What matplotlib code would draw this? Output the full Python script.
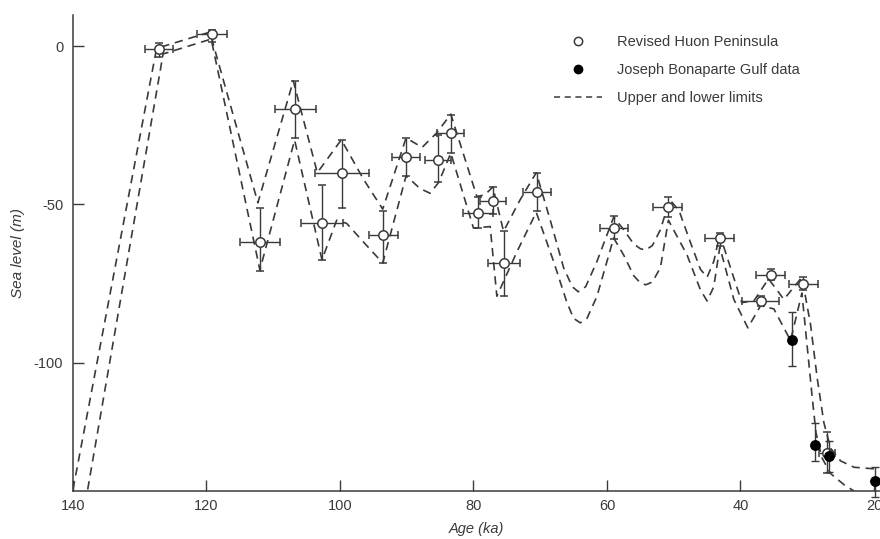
import numpy as np
import matplotlib.pyplot as plt
from matplotlib.lines import Line2D

plt.rcParams['font.family'] = ['Liberation Sans', 'DejaVu Sans']
plt.rcParams['axes.unicode_minus'] = False

# Revised Huon Peninsula (open circles)
huon_age = [127.1, 119.2, 112.0, 106.7, 102.7, 99.7, 93.5, 90.1, 85.3, 83.4, 79.3,
            77.1, 75.4, 70.5, 59.0, 50.9, 43.1, 37.0, 35.5, 30.6, 27.0]
huon_sl = [-1.0, 3.8, -62.0, -20.0, -56.0, -40.0, -59.6, -35.0, -36.0, -27.4, -52.7,
           -49.0, -68.5, -46.0, -57.4, -50.8, -60.6, -80.5, -72.2, -75.0, -128.5]
huon_xerr = [2.1, 2.2, 3.0, 3.1, 3.1, 4.0, 2.2, 2.1, 2.0, 2.0, 2.2,
             2.0, 2.4, 2.1, 2.1, 2.2, 2.2, 2.7, 2.2, 2.2, 1.2]
huon_ylo = [2.5, 2.5, 9.0, 9.0, 11.5, 11.0, 9.0, 6.0, 7.0, 6.4, 4.8,
            4.0, 10.5, 6.0, 3.6, 3.2, 2.4, 1.5, 1.8, 2.0, 6.2]
huon_yhi = [2.0, 1.2, 11.0, 9.0, 12.0, 10.4, 7.6, 6.0, 8.0, 5.6, 5.1,
            4.5, 10.0, 6.0, 3.8, 3.2, 1.6, 1.5, 1.7, 2.0, 6.5]

# Joseph Bonaparte Gulf (filled circles)
jbg_age = [32.3, 28.8, 26.7, 19.8]
jbg_sl = [-92.7, -125.9, -129.6, -137.5]
jbg_ylo = [8.3, 5.1, 5.0, 5.0]
jbg_yhi = [8.7, 6.9, 5.0, 4.5]

# upper and lower limit curves
upper_age = [140.0, 127.5, 126.8, 119.5, 112.3, 107.0, 103.4, 99.8, 96.5, 93.6,
             90.1, 87.7, 85.5, 83.4, 79.5, 78.3, 77.1, 75.5, 73.0, 70.6,
             68.5, 66.5, 65.2, 64.3, 63.2, 61.5, 59.0, 57.5, 56.0, 55.0,
             54.2, 53.2, 52.0, 50.6, 49.2, 47.5, 46.0, 45.0, 44.0, 43.1,
             41.5, 39.8, 38.0, 35.8, 33.5, 30.8, 29.5, 28.5, 27.5, 26.5,
             25.0, 23.0, 20.0]
upper_sl = [-140.0, -1.0, -0.3, 4.4, -49.5, -11.0, -40.0, -29.6, -42.0, -51.5,
            -29.0, -32.0, -27.4, -21.5, -47.5, -47.0, -44.5, -58.5, -48.5, -40.0,
            -55.0, -70.0, -76.0, -77.6, -76.0, -68.0, -54.0, -58.0, -62.5, -64.0,
            -64.4, -63.0, -58.0, -48.5, -52.0, -62.0, -70.5, -73.0, -68.0, -59.5,
            -70.0, -81.0, -80.5, -73.5, -80.0, -73.0, -88.0, -105.0, -119.0, -127.0,
            -131.0, -133.0, -133.5]

lower_age = [137.8, 126.5, 119.3, 112.0, 106.8, 102.7, 100.5, 99.0, 96.0, 93.6,
             90.1, 88.0, 86.5, 85.2, 83.4, 80.0, 77.5, 76.5, 73.5, 70.6,
             68.0, 66.0, 65.0, 64.0, 63.0, 61.5, 59.0, 57.5, 56.0, 55.0,
             54.2, 53.2, 52.0, 50.8, 48.0, 46.0, 45.0, 44.0, 43.1, 41.0,
             38.9, 37.0, 35.0, 32.5, 30.8, 30.0, 29.3, 28.7, 27.8, 26.5,
             24.5, 23.0]
lower_sl = [-140.0, -2.5, 2.2, -70.7, -29.7, -67.5, -55.0, -56.0, -63.0, -68.5,
            -41.0, -45.0, -46.5, -43.0, -33.8, -57.5, -57.0, -79.0, -65.0, -52.5,
            -68.0, -81.0, -86.0, -87.4, -86.0, -79.0, -60.6, -66.0, -72.5, -74.8,
            -75.4, -74.5, -70.0, -55.0, -66.0, -77.0, -80.5, -76.0, -63.5, -80.0,
            -89.0, -82.0, -83.0, -93.0, -78.0, -95.0, -110.0, -122.0, -130.0, -135.0,
            -138.5, -140.5]

ink = '#3a3a3a'

fig = plt.figure(figsize=(8.8, 5.39), dpi=100)
ax = fig.add_axes([73 / 880, 48 / 539, 807 / 880, 476 / 539])

ax.plot(upper_age, upper_sl, ls=(0, (5, 3.5)), color=ink, lw=1.2)
ax.plot(lower_age, lower_sl, ls=(0, (5, 3.5)), color=ink, lw=1.2)

ax.errorbar(huon_age, huon_sl, xerr=huon_xerr, yerr=[huon_ylo, huon_yhi],
            fmt='o', mfc='white', mec=ink, mew=1.1, ms=6.8, ecolor=ink,
            elinewidth=1.0, capsize=3, capthick=1.0, zorder=3)
ax.errorbar(jbg_age, jbg_sl, yerr=[jbg_ylo, jbg_yhi],
            fmt='o', mfc='black', mec='black', ms=6.8, ecolor=ink,
            elinewidth=1.0, capsize=3, capthick=1.0, zorder=4, clip_on=False)

ax.set_xlim(140, 19.1)
ax.set_ylim(-140.5, 9.8)
ax.set_xticks([140, 120, 100, 80, 60, 40, 20])
ax.set_yticks([0, -50, -100])
ax.tick_params(direction='in', length=8, width=1, colors=ink, labelsize=10.5)
ax.tick_params(axis='x', pad=6)
ax.tick_params(axis='y', pad=7)
for s in ['top', 'right']:
    ax.spines[s].set_visible(False)
for s in ['left', 'bottom']:
    ax.spines[s].set_color(ink)
    ax.spines[s].set_linewidth(1.1)

ax.set_xlabel('Age (ka)', style='italic', fontsize=10.5, color=ink, labelpad=6)
ax.set_ylabel('Sea level (m)', style='italic', fontsize=11, color=ink, labelpad=6)

handles = [
    Line2D([], [], ls='none', marker='o', mfc='white', mec=ink, mew=1.1, ms=6),
    Line2D([], [], ls='none', marker='o', mfc='black', mec='black', ms=6),
    Line2D([], [], ls=(0, (4, 3)), color=ink, lw=1.1),
]
labels = ['Revised Huon Peninsula', 'Joseph Bonaparte Gulf data', 'Upper and lower limits']
fig.legend(handles, labels, loc='upper left', bbox_to_anchor=(541 / 880, 1 - 22 / 539),
           frameon=False, fontsize=10.5, handlelength=3.3, handletextpad=1.0,
           labelspacing=0.95, labelcolor=ink)

fig.savefig('out.png', dpi=100)
